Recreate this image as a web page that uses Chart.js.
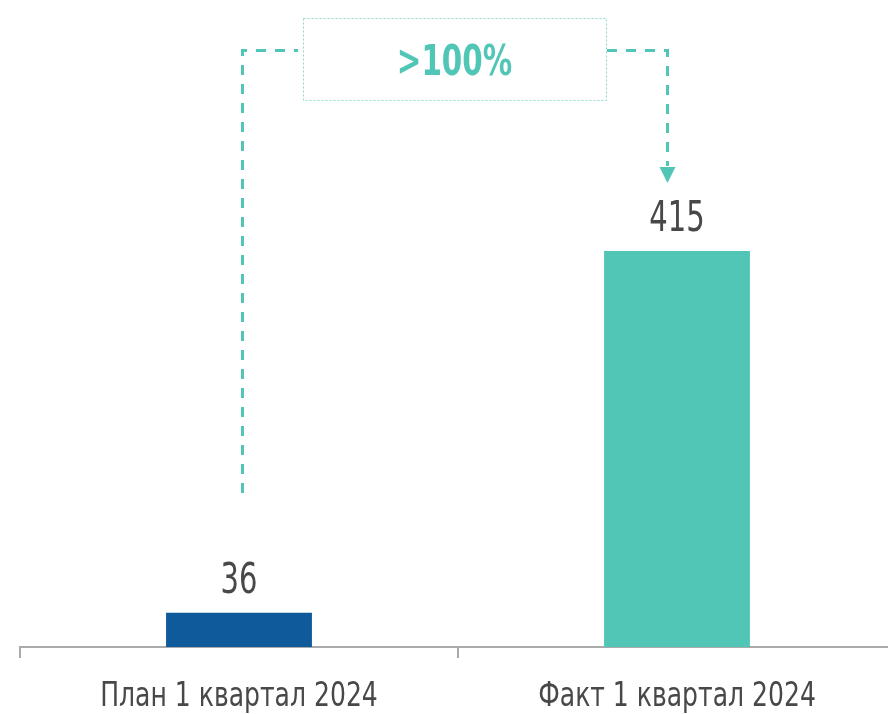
<!DOCTYPE html>
<html>
<head>
<meta charset="utf-8">
<script src="https://cdn.jsdelivr.net/npm/chart.js@4"></script>
<style>
    html, body { margin: 0; padding: 0; background: #fff; overflow: hidden; }
    .wrap { width: 896px; height: 714px; }
</style>
</head>
<body>
<div class="wrap"><canvas id="chart" width="896" height="714"></canvas></div>
<script>
const categories = ['План 1 квартал 2024', 'Факт 1 квартал 2024'];
const values = [36, 415];
const barColors = ['#0e5a9b', '#52c6b6'];
const growthLabel = '>100%';

const FONT = '"DejaVu Sans Condensed", "DejaVu Sans", sans-serif';
const TEAL = '#52c6b6';

// draws centred text squeezed horizontally, the original font is a narrow DIN
function narrowText(c, text, x, y, font, sx) {
    c.save();
    c.font = font;
    c.textAlign = 'center';
    c.translate(x, y);
    c.scale(sx, 1);
    c.fillText(text, 0, 0);
    c.restore();
}

// category labels, value labels and the dashed growth annotation
const overlay = {
    id: 'overlay',
    afterDraw(chart) {
        const c = chart.ctx;
        const meta = chart.getDatasetMeta(0);
        const xScale = chart.scales.x;
        c.save();
        c.fillStyle = '#484848';
        meta.data.forEach((bar, i) => {
            narrowText(c, values[i], bar.x, bar.y - 20, '43px ' + FONT, 0.75);
        });
        categories.forEach((label, i) => {
            narrowText(c, label, xScale.getPixelForValue(i), 706, '33px ' + FONT, 0.845);
        });

        const x1 = meta.data[0].x + 3.5;
        const x2 = meta.data[1].x - 9.5;
        const top = 50.5;
        const boxL = 303, boxR = 606, boxT = 18, boxB = 100;

        c.strokeStyle = TEAL;
        c.lineWidth = 3;
        c.setLineDash([10, 9]);
        c.beginPath();
        c.moveTo(x1, 493);
        c.lineTo(x1, top);
        c.lineTo(boxL - 5, top);
        c.stroke();
        c.beginPath();
        c.moveTo(boxR + 1, top);
        c.lineTo(x2, top);
        c.lineTo(x2, 166);
        c.stroke();

        c.setLineDash([]);
        c.fillStyle = TEAL;
        c.beginPath();
        c.moveTo(x2 - 8, 167);
        c.lineTo(x2 + 8, 167);
        c.lineTo(x2, 183);
        c.closePath();
        c.fill();

        c.lineWidth = 1;
        c.strokeStyle = '#8fd9cf';
        c.setLineDash([2, 2]);
        c.strokeRect(boxL + 0.5, boxT + 0.5, boxR - boxL, boxB - boxT);

        narrowText(c, growthLabel, (boxL + boxR) / 2, 75, 'bold 43px ' + FONT, 0.76);
        c.restore();
    }
};

new Chart(document.getElementById('chart'), {
    type: 'bar',
    data: {
        labels: categories,
        datasets: [{
            data: values,
            backgroundColor: barColors,
            borderWidth: 0,
            barPercentage: 1,
            categoryPercentage: 0.333
        }]
    },
    options: {
        responsive: false,
        animation: false,
        layout: { padding: { left: 20, right: 0, top: 0, bottom: 0 } },
        scales: {
            x: {
                afterFit(scale) { scale.height = 67; },
                border: { display: true, color: '#aaa', width: 2 },
                grid: {
                    display: true,
                    drawOnChartArea: false,
                    offset: true,
                    color: '#aaa',
                    lineWidth: 2,
                    tickLength: 11
                },
                ticks: { display: false }
            },
            y: {
                display: false,
                min: 0,
                max: 678
            }
        },
        plugins: {
            legend: { display: false },
            tooltip: { enabled: false }
        }
    },
    plugins: [overlay]
});
</script>
</body>
</html>
